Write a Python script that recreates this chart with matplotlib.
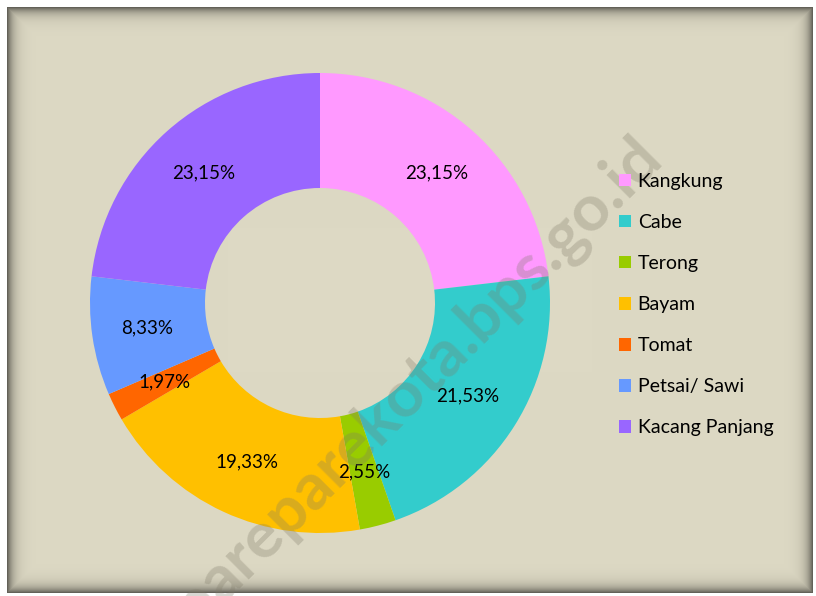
import numpy as np
import matplotlib.pyplot as plt

# Data
categories = ['Kangkung', 'Cabe', 'Terong', 'Bayam', 'Tomat', 'Petsai/ Sawi', 'Kacang Panjang']
shares = [23.15, 21.53, 2.55, 19.33, 1.97, 8.33, 23.15]
colors = ['#FF99FF', '#33CCCC', '#99CC00', '#FFC000', '#FF6600', '#6699FF', '#9966FF']

W, H = 816, 596
fig = plt.figure(figsize=(W / 100, H / 100), dpi=100)
fig.patch.set_facecolor('white')

# framed beige background with inner shadow
bg = fig.add_axes([0, 0, 1, 1])
bg.axis('off')
yy, xx = np.mgrid[0:H, 0:W]
x0, y0, x1, y1 = 7, 7, 812, 592
inside = (xx >= x0) & (xx <= x1) & (yy >= y0) & (yy <= y1)
d = np.minimum.reduce([xx - x0, yy - y0, x1 - xx, y1 - yy]).astype(float)
shade = 1 - 0.55 * np.exp(-d / 6.0)
img = np.ones((H, W, 3))
base = np.array([221, 217, 196]) / 255
img[inside] = base * shade[inside][:, None]
bg.imshow(img, extent=(0, W, H, 0), aspect='auto', interpolation='nearest')
bg.set_xlim(0, W)
bg.set_ylim(H, 0)

plt.rcParams['font.family'] = ['Lato', 'DejaVu Sans']

# donut
cx, cy, r = 320, 303, 230
ax = fig.add_axes([(cx - r) / W, (H - cy - r) / H, 2 * r / W, 2 * r / H])
wedges, _ = ax.pie(shares, colors=colors, startangle=90, counterclock=False,
                   radius=1.0, wedgeprops=dict(width=0.5, linewidth=0))
ax.set_xlim(-1, 1)
ax.set_ylim(-1, 1)
ax.axis('off')

for w, v in zip(wedges, shares):
    mid = np.deg2rad((w.theta1 + w.theta2) / 2)
    ax.text(0.76 * np.cos(mid), 0.76 * np.sin(mid), f'{v:.2f}%'.replace('.', ','),
            ha='center', va='center', fontsize=13.5, color='black')

# legend
fig.legend(wedges, categories, loc='upper left', bbox_to_anchor=(611 / W, 1 - 165 / H),
           frameon=False, fontsize=14, handlelength=0.62, handleheight=0.62,
           handletextpad=0.35, labelspacing=1.24, borderaxespad=0)

# watermark
fig.text(418 / W, 1 - 382 / H, 'pareparekota.bps.go.id', rotation=45,
         ha='center', va='center', fontsize=47, fontweight='bold',
         color='#7f7a68', alpha=0.3)

fig.savefig('out.png', dpi=100)
